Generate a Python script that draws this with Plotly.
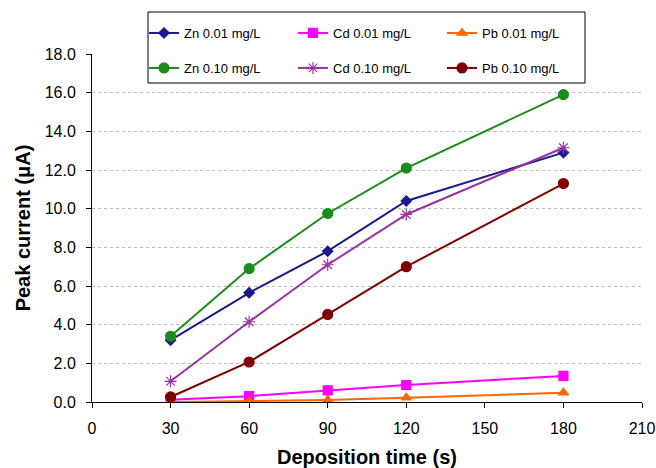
import plotly.graph_objects as go

times = [30, 60, 90, 120, 180]
zn_001 = [3.2, 5.65, 7.8, 10.4, 12.9]
cd_001 = [0.12, 0.3, 0.6, 0.88, 1.35]
pb_001 = [0.0, 0.04, 0.1, 0.22, 0.48]
zn_010 = [3.4, 6.9, 9.75, 12.1, 15.9]
cd_010 = [1.07, 4.15, 7.1, 9.7, 13.15]
pb_010 = [0.26, 2.07, 4.53, 7.0, 11.3]

x_ticks = [0, 30, 60, 90, 120, 150, 180, 210]
y_ticks = [0, 2, 4, 6, 8, 10, 12, 14, 16, 18]

FONT = "Arial, Liberation Sans, sans-serif"

series = [
    ("Zn 0.01 mg/L", zn_001, "#1A1A8C", "diamond", 8, "legend"),
    ("Cd 0.01 mg/L", cd_001, "#FF00FF", "square", 9, "legend"),
    ("Pb 0.01 mg/L", pb_001, "#FF6600", "triangle-up", 9, "legend"),
    ("Zn 0.10 mg/L", zn_010, "#1A8C1A", "circle", 10, "legend2"),
    ("Cd 0.10 mg/L", cd_010, "#9933A0", "asterisk-open", 10, "legend2"),
    ("Pb 0.10 mg/L", pb_010, "#800000", "circle", 10, "legend2"),
]

fig = go.Figure()
for name, vals, color, sym, size, leg in series:
    fig.add_trace(go.Scatter(
        x=times, y=vals, name=name, mode="lines+markers",
        line=dict(color=color, width=2),
        marker=dict(color=color, symbol=sym, size=size,
                    line=dict(color=color, width=1.2)),
        legend=leg,
    ))

W, H = 656, 468
ml, mr, mt, mb = 92, 14, 54, 66
pw = W - ml - mr
ph = H - mt - mb

def px_x(p):
    return (p - ml) / pw

def px_y(p):
    return (H - mb - p) / ph

legend_common = dict(
    orientation="h", xanchor="left", yanchor="middle",
    font=dict(family=FONT, size=13, color="black"),
    bgcolor="rgba(0,0,0,0)", borderwidth=0,
    entrywidth=104, entrywidthmode="pixels",
    itemwidth=30,
)

fig.update_layout(
    width=W, height=H,
    margin=dict(l=ml, r=mr, t=mt, b=mb),
    paper_bgcolor="white", plot_bgcolor="white",
    font=dict(family=FONT, size=13, color="black"),
    showlegend=True,
    legend=dict(x=px_x(144), y=px_y(33), **legend_common),
    legend2=dict(x=px_x(144), y=px_y(68), **legend_common),
    xaxis=dict(
        range=[0, 210], tickvals=x_ticks, ticktext=[str(v) for v in x_ticks],
        showline=True, linecolor="black", linewidth=1,
        ticks="outside", ticklen=5, tickcolor="black",
        ticklabelstandoff=7,
        showgrid=False, zeroline=False, automargin=False,
        tickfont=dict(family=FONT, size=16, color="black"),
        title=dict(text="<b>Deposition time (s)</b>",
                   font=dict(family=FONT, size=20, color="black"), standoff=14),
    ),
    yaxis=dict(
        range=[0, 18], tickvals=y_ticks, ticktext=[f"{v:.1f}" for v in y_ticks],
        showline=True, linecolor="black", linewidth=1,
        ticks="outside", ticklen=5, tickcolor="black",
        ticklabelstandoff=7,
        showgrid=True, gridcolor="#BBBBBB", griddash="dot", gridwidth=1,
        zeroline=False, automargin=False,
        tickfont=dict(family=FONT, size=16, color="black"),
        title=dict(text="<b>Peak current (μA)</b>",
                   font=dict(family=FONT, size=20, color="black"), standoff=8),
    ),
    shapes=[dict(
        type="rect", xref="paper", yref="paper",
        x0=px_x(148), x1=px_x(585), y0=px_y(83), y1=px_y(12),
        line=dict(color="black", width=1), fillcolor="white", layer="above",
    )],
)

fig.write_html("out.html", config={"displayModeBar": False},
               post_script="document.body.style.margin='0';")
